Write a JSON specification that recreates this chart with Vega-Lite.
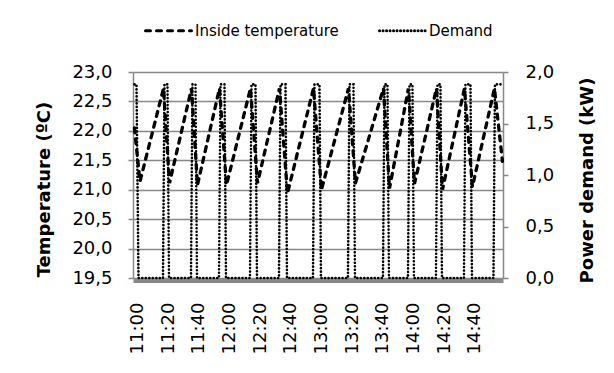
{
  "$schema": "https://vega.github.io/schema/vega-lite/v6.json",
  "width": 370,
  "height": 206,
  "autosize": {"type": "none"},
  "padding": {"left": 133, "top": 72, "right": 111, "bottom": 95},
  "background": "white",
  "config": {
    "view": {"stroke": null},
    "font": "DejaVu Sans",
    "axis": {
      "labelColor": "black",
      "titleColor": "black",
      "labelFont": "DejaVu Sans",
      "titleFont": "DejaVu Sans",
      "labelFontSize": 18,
      "titleFontSize": 18,
      "titleFontWeight": "bold",
      "domainColor": "#888888",
      "domainWidth": 1.5,
      "tickColor": "#888888",
      "tickWidth": 1.5,
      "tickSize": 5,
      "gridColor": "#888888",
      "gridWidth": 1.5
    },
    "axisX": {"labelOverlap": false}
  },
  "datasets": {
    "temp": [
      {"m": -2, "v": 22.05},
      {"m": 1.63, "v": 21.14},
      {"m": 16.95, "v": 22.72},
      {"m": 20.86, "v": 21.11},
      {"m": 35.2, "v": 22.72},
      {"m": 39.11, "v": 21.08},
      {"m": 53.45, "v": 22.72},
      {"m": 58.02, "v": 21.08},
      {"m": 73.66, "v": 22.72},
      {"m": 78.23, "v": 21.11},
      {"m": 92.57, "v": 22.72},
      {"m": 97.78, "v": 20.94},
      {"m": 114.73, "v": 22.72},
      {"m": 119.95, "v": 21.0},
      {"m": 137.55, "v": 22.72},
      {"m": 142.11, "v": 21.11},
      {"m": 160.37, "v": 22.72},
      {"m": 164.28, "v": 21.02},
      {"m": 176.66, "v": 22.72},
      {"m": 180.57, "v": 21.1},
      {"m": 194.92, "v": 22.72},
      {"m": 198.83, "v": 21.0},
      {"m": 213.17, "v": 22.72},
      {"m": 218.38, "v": 21.05},
      {"m": 232.72, "v": 22.72},
      {"m": 237.94, "v": 21.48}
    ],
    "demand": [
      {"m": -2, "v": 1.88},
      {"m": -0.65, "v": 1.88},
      {"m": 0.65, "v": 0},
      {"m": 16.62, "v": 0},
      {"m": 17.6, "v": 1.88},
      {"m": 19.56, "v": 1.88},
      {"m": 20.53, "v": 0},
      {"m": 34.87, "v": 0},
      {"m": 35.85, "v": 1.88},
      {"m": 37.81, "v": 1.88},
      {"m": 38.79, "v": 0},
      {"m": 53.13, "v": 0},
      {"m": 54.11, "v": 1.88},
      {"m": 56.72, "v": 1.88},
      {"m": 57.69, "v": 0},
      {"m": 73.34, "v": 0},
      {"m": 74.32, "v": 1.88},
      {"m": 76.92, "v": 1.88},
      {"m": 77.9, "v": 0},
      {"m": 92.24, "v": 0},
      {"m": 93.22, "v": 1.88},
      {"m": 96.48, "v": 1.88},
      {"m": 97.46, "v": 0},
      {"m": 114.41, "v": 0},
      {"m": 115.38, "v": 1.88},
      {"m": 118.64, "v": 1.88},
      {"m": 119.62, "v": 0},
      {"m": 137.22, "v": 0},
      {"m": 138.2, "v": 1.88},
      {"m": 140.81, "v": 1.88},
      {"m": 141.79, "v": 0},
      {"m": 160.04, "v": 0},
      {"m": 161.02, "v": 1.88},
      {"m": 162.97, "v": 1.88},
      {"m": 163.95, "v": 0},
      {"m": 176.34, "v": 0},
      {"m": 177.31, "v": 1.88},
      {"m": 179.27, "v": 1.88},
      {"m": 180.25, "v": 0},
      {"m": 194.59, "v": 0},
      {"m": 195.57, "v": 1.88},
      {"m": 197.52, "v": 1.88},
      {"m": 198.5, "v": 0},
      {"m": 212.84, "v": 0},
      {"m": 213.82, "v": 1.88},
      {"m": 217.08, "v": 1.88},
      {"m": 218.06, "v": 0},
      {"m": 232.07, "v": 0},
      {"m": 233.05, "v": 1.88},
      {"m": 237.94, "v": 1.88}
    ]
  },
  "encoding": {
    "x": {
      "field": "m",
      "type": "quantitative",
      "scale": {"domain": [-2.93, 238.3], "nice": false, "zero": false},
      "axis": {
        "values": [0, 20, 40, 60, 80, 100, 120, 140, 160, 180, 200, 220],
        "labelExpr": "(floor(datum.value/60)+11) + ':' + (datum.value%60==0 ? '00' : datum.value%60)",
        "labelAngle": 270,
        "labelAlign": "right",
        "labelBaseline": "middle",
        "labelPadding": 22,
        "labelOverlap": false,
        "labelFlush": false,
        "labelBound": false,
        "ticks": false,
        "grid": false,
        "domainWidth": 5,
        "offset": 2,
        "title": null
      }
    }
  },
  "layer": [
    {
      "data": {"name": "temp"},
      "mark": {"type": "line", "color": "black", "strokeWidth": 3.3, "strokeCap": "round"},
      "encoding": {
        "y": {
          "field": "v",
          "type": "quantitative",
          "scale": {"domain": [19.5, 23], "nice": false, "zero": false},
          "axis": {
            "values": [19.5, 20, 20.5, 21, 21.5, 22, 22.5, 23],
            "labelExpr": "replace(format(datum.value, '.1f'), '.', ',')",
            "grid": true,
            "labelPadding": 16,
            "title": "Temperature (ºC)",
            "titleAngle": 270,
            "titleAlign": "center",
            "titleBaseline": "middle",
            "titleX": -89,
            "titleY": 117
          }
        },
        "strokeDash": {
          "datum": "Inside temperature",
          "type": "nominal",
          "scale": {"domain": ["Inside temperature", "Demand"], "range": [[5, 6], [0.1, 3.4]]},
          "legend": {
            "orient": "none",
            "legendX": 11,
            "legendY": -66,
            "direction": "horizontal",
            "title": null,
            "symbolType": "stroke",
            "symbolStrokeColor": "black",
            "symbolStrokeWidth": 3,
            "symbolSize": 2116,
            "labelFont": "DejaVu Sans",
            "labelFontSize": 15,
            "labelColor": "black",
            "labelOffset": 2,
            "columnPadding": 34,
            "padding": 0,
            "encode": {"symbols": {"update": {"strokeCap": {"value": "round"}}}}
          }
        }
      }
    },
    {
      "data": {"name": "demand"},
      "mark": {"type": "line", "color": "black", "strokeWidth": 2.6, "strokeCap": "round"},
      "encoding": {
        "y": {
          "field": "v",
          "type": "quantitative",
          "scale": {"domain": [0, 2], "nice": false},
          "axis": {
            "orient": "right",
            "values": [0, 0.5, 1, 1.5, 2],
            "labelExpr": "replace(format(datum.value, '.1f'), '.', ',')",
            "grid": false,
            "labelPadding": 17,
            "title": "Power demand (kW)",
            "titleAngle": 270,
            "titleAlign": "center",
            "titleBaseline": "middle",
            "titleX": 84,
            "titleY": 108
          }
        },
        "strokeDash": {"datum": "Demand", "type": "nominal"}
      }
    }
  ],
  "resolve": {"scale": {"y": "independent"}}
}
